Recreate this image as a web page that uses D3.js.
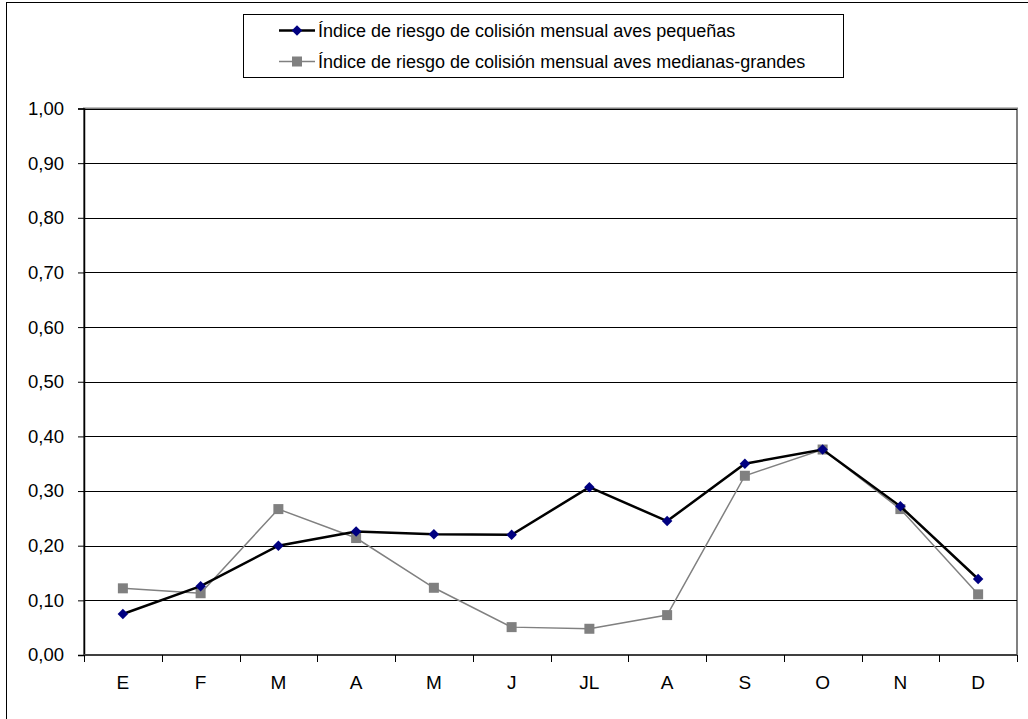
<!DOCTYPE html>
<html>
<head>
<meta charset="utf-8">
<script src="https://cdn.jsdelivr.net/npm/d3@7"></script>
<style>
  html, body { margin: 0; padding: 0; background: #fff; }
  svg { display: block; font-family: "Liberation Sans", Arial, sans-serif; }
</style>
</head>
<body>
<svg id="chart" width="1028" height="719"></svg>
<script>
// Monthly collision-risk index, two bird size classes
const months = ["E", "F", "M", "A", "M", "J", "JL", "A", "S", "O", "N", "D"];
const smallBirds = [0.075, 0.126, 0.200, 0.226, 0.221, 0.220, 0.307, 0.245, 0.350, 0.376, 0.272, 0.139];
const largeBirds = [0.122, 0.113, 0.267, 0.214, 0.123, 0.051, 0.048, 0.073, 0.328, 0.376, 0.267, 0.111];
const yTicks = [0, 0.1, 0.2, 0.3, 0.4, 0.5, 0.6, 0.7, 0.8, 0.9, 1.0];
const seriesNames = [
  "Índice de riesgo de colisión mensual aves pequeñas",
  "Índice de riesgo de colisión mensual aves medianas-grandes"
];

const svg = d3.select("#chart");
const plot = { left: 84, right: 1017, top: 108.5, bottom: 655 };

// outer chart frame (runs off the right and bottom edges)
svg.append("rect")
  .attr("x", 6.5).attr("y", 2.5)
  .attr("width", 1100).attr("height", 800)
  .attr("fill", "#fff").attr("stroke", "#000").attr("stroke-width", 1);

const x = d3.scaleBand()
  .domain(d3.range(months.length))
  .range([plot.left, plot.right])
  .paddingInner(0).paddingOuter(0);

const y = d3.scaleLinear().domain([0, 1]).range([plot.bottom, plot.top]);

// plot area border
svg.append("rect")
  .attr("x", plot.left).attr("y", plot.top)
  .attr("width", plot.right - plot.left).attr("height", plot.bottom - plot.top)
  .attr("fill", "#fff").attr("stroke", "#808080").attr("stroke-width", 2);

// horizontal gridlines
svg.append("g")
  .selectAll("line")
  .data(yTicks.filter(d => d > 0))
  .join("line")
  .attr("x1", plot.left).attr("x2", plot.right)
  .attr("y1", d => Math.round(y(d)) + 0.5).attr("y2", d => Math.round(y(d)) + 0.5)
  .attr("stroke", "#000").attr("stroke-width", 1);

// y axis
const yAxis = d3.axisLeft(y)
  .tickValues(yTicks)
  .tickSize(6)
  .tickPadding(14)
  .tickFormat(d => d3.format(".2f")(d).replace(".", ","));
const gy = svg.append("g").attr("transform", `translate(${plot.left},0)`).call(yAxis);
gy.select(".domain").attr("stroke", "#000").attr("stroke-width", 1.5);
gy.selectAll(".tick line").attr("stroke", "#000");
gy.selectAll(".tick text")
  .attr("font-size", 18.5).attr("fill", "#000")
  .attr("font-family", "Liberation Sans, Arial, sans-serif");

// x axis: ticks on category boundaries, labels centred in each band
const boundaries = d3.range(months.length + 1).map(i => plot.left + i * x.step());
const gx = svg.append("g");
gx.append("line")
  .attr("x1", plot.left).attr("x2", plot.right)
  .attr("y1", plot.bottom).attr("y2", plot.bottom)
  .attr("stroke", "#404040").attr("stroke-width", 2);
gx.selectAll("line.tick")
  .data(boundaries)
  .join("line").attr("class", "tick")
  .attr("x1", d => Math.round(d) + 0.5).attr("x2", d => Math.round(d) + 0.5)
  .attr("y1", plot.bottom).attr("y2", plot.bottom + 7)
  .attr("stroke", "#000").attr("stroke-width", 1);
gx.selectAll("text")
  .data(months)
  .join("text")
  .attr("x", (d, i) => x(i) + x.bandwidth() / 2)
  .attr("y", 689)
  .attr("text-anchor", "middle")
  .attr("font-size", 19)
  .attr("fill", "#000")
  .text(d => d);

const cx = i => x(i) + x.bandwidth() / 2;
const line = d3.line().x((d, i) => cx(i)).y(d => y(d));

// medium-large birds: grey line with square markers
svg.append("path")
  .datum(largeBirds)
  .attr("d", line)
  .attr("fill", "none").attr("stroke", "#808080").attr("stroke-width", 1.5);
svg.append("g")
  .selectAll("rect")
  .data(largeBirds)
  .join("rect")
  .attr("x", (d, i) => cx(i) - 5).attr("y", d => y(d) - 5)
  .attr("width", 10).attr("height", 10)
  .attr("fill", "#808080");

// small birds: black line with navy diamond markers
svg.append("path")
  .datum(smallBirds)
  .attr("d", line)
  .attr("fill", "none").attr("stroke", "#000").attr("stroke-width", 2.5);
const diamond = d3.symbol().type(d3.symbolDiamond2).size(70);
svg.append("g")
  .selectAll("path")
  .data(smallBirds)
  .join("path")
  .attr("transform", (d, i) => `translate(${cx(i)},${y(d)})`)
  .attr("d", diamond)
  .attr("fill", "#000080");

// legend
const legend = svg.append("g");
legend.append("rect")
  .attr("x", 243.5).attr("y", 14.5)
  .attr("width", 600).attr("height", 63)
  .attr("fill", "#fff").attr("stroke", "#000").attr("stroke-width", 1);
const rows = [30.5, 61.5];
// row 1
legend.append("line")
  .attr("x1", 279).attr("x2", 315).attr("y1", rows[0]).attr("y2", rows[0])
  .attr("stroke", "#000").attr("stroke-width", 2.5);
legend.append("path")
  .attr("transform", `translate(297,${rows[0]})`)
  .attr("d", diamond).attr("fill", "#000080");
// row 2
legend.append("line")
  .attr("x1", 279).attr("x2", 315).attr("y1", rows[1]).attr("y2", rows[1])
  .attr("stroke", "#808080").attr("stroke-width", 1.5);
legend.append("rect")
  .attr("x", 292).attr("y", rows[1] - 5).attr("width", 10).attr("height", 10)
  .attr("fill", "#808080");
legend.selectAll("text")
  .data(seriesNames)
  .join("text")
  .attr("x", 318)
  .attr("y", (d, i) => rows[i] + 6.5)
  .attr("font-size", 18)
  .attr("fill", "#000")
  .text(d => d);
</script>
</body>
</html>
